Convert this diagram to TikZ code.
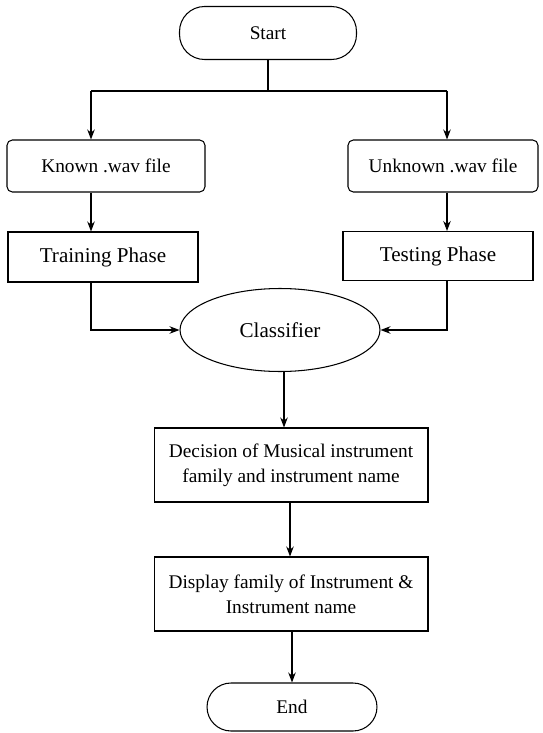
\documentclass[tikz,border=0pt]{standalone}
\usepackage{fontspec}
\setmainfont{Liberation Serif}
\usetikzlibrary{arrows.meta, shapes.geometric}

\begin{document}
\begin{tikzpicture}[x=0.02cm, y=-0.02cm, line width=0.6pt,
    >={Stealth[length=2mm, width=1.5mm]},
    term/.style={draw, rectangle, rounded corners=0.5cm, inner sep=0pt, font=\fontsize{11}{13}\selectfont},
    file/.style={draw, rectangle, rounded corners=3pt, inner sep=0pt, font=\fontsize{11}{13}\selectfont},
    phase/.style={draw, rectangle, inner sep=0pt, font=\fontsize{12}{14}\selectfont},
    proc/.style={draw, rectangle, inner sep=0pt, align=center, font=\fontsize{11}{14}\selectfont},
    clf/.style={draw, ellipse, inner sep=0pt, font=\fontsize{12}{14}\selectfont}]
    \useasboundingbox (0,0) rectangle (543,733);

    \node[term, minimum width=3.54cm, minimum height=1.06cm] (1) at (268,33) {Start};
    \node[file, minimum width=3.96cm, minimum height=1.04cm] (2) at (106,166) {Known .wav file};
    \node[file, minimum width=3.80cm, minimum height=1.04cm] (3) at (443,166) {Unknown .wav file};
    \node[phase, minimum width=3.80cm, minimum height=1.00cm] (4) at (103,257) {Training Phase};
    \node[phase, minimum width=3.80cm, minimum height=0.98cm] (5) at (438,256) {Testing Phase};
    \node[clf, minimum width=4.00cm, minimum height=1.66cm] (6) at (280,330) {Classifier};
    \node[proc, minimum width=5.48cm, minimum height=1.48cm] (7) at (291,465) {Decision of Musical instrument\\family and instrument name};
    \node[proc, minimum width=5.48cm, minimum height=1.48cm] (8) at (291,594) {Display family of Instrument \&\\Instrument name};
    \node[term, minimum width=3.40cm, minimum height=0.96cm, rounded corners=0.48cm] (9) at (292,707) {End};

    \coordinate (s) at (268,91);
    \coordinate (l) at (91,91);
    \coordinate (r) at (447,91);

    \draw (1) -- (s);
    \draw (l) -- (r);
    \draw[->] (l) -- (2.north -| l);
    \draw[->] (r) -- (3.north -| r);
    \draw[->] (2.south -| l) -- (4.north -| l);
    \draw[->] (3.south -| r) -- (5.north -| r);
    \draw[->] (4.south -| l) |- (6);
    \draw[->] (5.south -| r) |- (6);
    \draw[->] (6.south -| 284,0) -- (7.north -| 284,0);
    \draw[->] (7.south -| 290,0) -- (8.north -| 290,0);
    \draw[->] (8.south -| 292,0) -- (9);
\end{tikzpicture}
\end{document}
